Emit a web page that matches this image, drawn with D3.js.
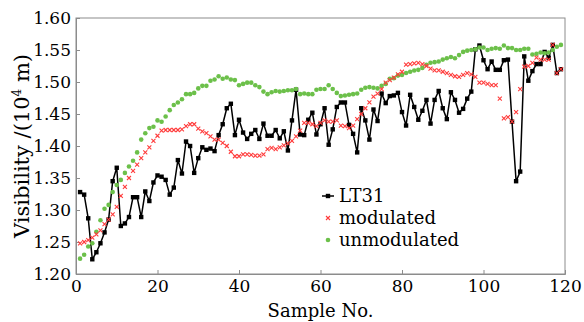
<!DOCTYPE html>
<html>
<head>
<meta charset="utf-8">
<script src="https://cdn.jsdelivr.net/npm/d3@7"></script>
<style>
  body { margin: 0; background: #fff; }
  svg { display: block; }
</style>
</head>
<body>
<svg id="chart"></svg>
<script>
// Data (sample 1..119)
const lt31 = [1.328,1.324,1.287,1.223,1.234,1.248,1.265,1.285,1.345,1.366,
  1.275,1.279,1.289,1.320,1.320,1.289,1.329,1.314,1.343,1.354,
  1.352,1.347,1.324,1.335,1.378,1.357,1.407,1.400,1.358,1.381,
  1.398,1.394,1.396,1.392,1.417,1.434,1.459,1.466,1.417,1.441,
  1.421,1.411,1.419,1.425,1.411,1.435,1.416,1.416,1.425,1.412,
  1.423,1.393,1.440,1.488,1.418,1.417,1.441,1.452,1.418,1.434,
  1.459,1.402,1.426,1.461,1.468,1.468,1.433,1.419,1.390,1.459,
  1.440,1.410,1.457,1.439,1.482,1.467,1.478,1.479,1.483,1.453,
  1.432,1.480,1.461,1.441,1.455,1.472,1.435,1.472,1.486,1.459,
  1.442,1.484,1.472,1.452,1.458,1.474,1.485,1.551,1.557,1.534,
  1.520,1.532,1.519,1.519,1.534,1.535,1.438,1.345,1.360,1.540,
  1.502,1.517,1.528,1.528,1.547,1.538,1.558,1.514,1.520];

const modulated = [1.248,1.250,1.253,1.257,1.262,1.268,1.278,1.285,1.293,1.305,
  1.322,1.336,1.350,1.361,1.371,1.381,1.390,1.398,1.408,1.416,
  1.424,1.425,1.425,1.425,1.425,1.426,1.431,1.434,1.434,1.427,
  1.423,1.420,1.415,1.410,1.410,1.405,1.400,1.391,1.384,1.384,
  1.387,1.387,1.386,1.385,1.385,1.387,1.395,1.397,1.395,1.398,
  1.401,1.404,1.408,1.415,1.424,1.436,1.436,1.434,1.431,1.436,
  1.440,1.438,1.438,1.440,1.432,1.431,1.428,1.432,1.442,1.450,
  1.459,1.468,1.477,1.482,1.489,1.499,1.503,1.507,1.512,1.516,
  1.527,1.528,1.529,1.530,1.528,1.525,1.521,1.518,1.518,1.516,
  1.514,1.511,1.509,1.508,1.511,1.514,1.512,1.508,1.499,1.499,
  1.497,1.495,1.495,1.474,1.443,1.445,1.438,1.453,1.489,1.524,
  1.525,1.530,1.538,1.535,1.535,1.535,1.558,1.514,1.520];

const unmodulated = [1.224,1.230,1.243,1.248,1.266,1.284,1.302,1.308,1.328,1.339,
  1.347,1.358,1.368,1.377,1.390,1.410,1.420,1.428,1.430,1.440,
  1.438,1.446,1.456,1.464,1.468,1.473,1.481,1.481,1.483,1.490,
  1.494,1.494,1.502,1.504,1.509,1.505,1.507,1.504,1.503,1.495,
  1.497,1.499,1.499,1.495,1.492,1.485,1.481,1.484,1.486,1.485,
  1.486,1.487,1.487,1.489,1.481,1.482,1.481,1.481,1.488,1.489,
  1.489,1.495,1.489,1.483,1.478,1.479,1.480,1.481,1.482,1.488,
  1.491,1.492,1.491,1.490,1.494,1.497,1.505,1.506,1.510,1.511,
  1.514,1.516,1.518,1.519,1.522,1.527,1.530,1.531,1.532,1.535,
  1.537,1.539,1.537,1.542,1.547,1.549,1.550,1.551,1.554,1.554,
  1.550,1.552,1.553,1.552,1.557,1.553,1.553,1.550,1.550,1.552,
  1.552,1.543,1.544,1.546,1.545,1.546,1.550,1.555,1.558];

const xTicks = [0, 20, 40, 60, 80, 100, 120];
const yTicks = [1.20, 1.25, 1.30, 1.35, 1.40, 1.45, 1.50, 1.55, 1.60];
const legendLabels = ["LT31", "modulated", "unmodulated"];

// Sizes
const width = 584;
const height = 322;
const marginTop = 18;
const marginRight = 19;
const marginBottom = 48;
const marginLeft = 76;
const fontFamily = "'DejaVu Serif', 'Liberation Serif', serif";

const svg = d3.select("#chart")
    .attr("width", width)
    .attr("height", height)
    .attr("viewBox", [0, 0, width, height])
    .attr("font-family", fontFamily);

const x = d3.scaleLinear()
    .domain([0, 120])
    .range([marginLeft, width - marginRight]);

const y = d3.scaleLinear()
    .domain([1.20, 1.60])
    .range([height - marginBottom, marginTop]);

const frameColor = "#8c8c8c";
const red = "#ff3b3b";
const green = "#6cc04a";

// Frame (top + right)
svg.append("rect")
    .attr("x", x(0))
    .attr("y", y(1.60))
    .attr("width", x(120) - x(0))
    .attr("height", y(1.20) - y(1.60))
    .attr("fill", "none")
    .attr("stroke", frameColor)
    .attr("stroke-width", 1);

// Axes, ticks pointing inward
const xAxis = svg.append("g")
    .attr("transform", `translate(0,${y(1.20)})`)
    .call(d3.axisBottom(x).tickValues(xTicks).tickSize(-4).tickPadding(7).tickFormat(d3.format("d")))
    .attr("font-family", fontFamily)
    .attr("font-size", 17);
xAxis.select(".domain").attr("stroke", frameColor);
xAxis.selectAll(".tick line").attr("stroke", frameColor);
xAxis.selectAll("text").attr("fill", "#000").attr("dy", "0.62em");

const yAxis = svg.append("g")
    .attr("transform", `translate(${x(0)},0)`)
    .call(d3.axisLeft(y).tickValues(yTicks).tickSize(-4).tickPadding(5).tickFormat(d3.format(".2f")))
    .attr("font-family", fontFamily)
    .attr("font-size", 17);
yAxis.select(".domain").attr("stroke", frameColor);
yAxis.selectAll(".tick line").attr("stroke", frameColor);
yAxis.selectAll("text").attr("fill", "#000");

// Axis titles
svg.append("text")
    .attr("x", (x(0) + x(120)) / 2)
    .attr("y", 317)
    .attr("text-anchor", "middle")
    .attr("font-size", 18)
    .text("Sample No.");

const yTitle = svg.append("text")
    .attr("transform", `translate(29,${(y(1.20) + y(1.60)) / 2}) rotate(-90)`)
    .attr("text-anchor", "middle")
    .attr("font-size", 21);
yTitle.append("tspan").text("Visibility /(10");
yTitle.append("tspan").attr("font-size", 12).attr("dy", -8).text("4");
yTitle.append("tspan").attr("dy", 8).text(" m)");

// LT31 line + squares
const line = d3.line()
    .x((d, i) => x(i + 1))
    .y(d => y(d));

svg.append("path")
    .datum(lt31)
    .attr("fill", "none")
    .attr("stroke", "#000")
    .attr("stroke-width", 1.5)
    .attr("stroke-linejoin", "round")
    .attr("d", line);

svg.append("g")
  .selectAll("rect")
  .data(lt31)
  .join("rect")
    .attr("x", (d, i) => x(i + 1) - 2.2)
    .attr("y", d => y(d) - 2.2)
    .attr("width", 4.4)
    .attr("height", 4.4)
    .attr("fill", "#000");

// unmodulated dots
svg.append("g")
  .selectAll("circle")
  .data(unmodulated)
  .join("circle")
    .attr("cx", (d, i) => x(i + 1))
    .attr("cy", d => y(d))
    .attr("r", 2.3)
    .attr("fill", green);

// modulated crosses
const cross = s => `M${-s},${-s}L${s},${s}M${-s},${s}L${s},${-s}`;
svg.append("g")
  .selectAll("path")
  .data(modulated)
  .join("path")
    .attr("transform", (d, i) => `translate(${x(i + 1)},${y(d)})`)
    .attr("d", cross(2))
    .attr("stroke", red)
    .attr("stroke-width", 1.1)
    .attr("fill", "none");

// Legend
const legend = svg.append("g")
    .attr("transform", "translate(321,196)");

const legendItems = legend.selectAll("g")
  .data(legendLabels)
  .join("g")
    .attr("transform", (d, i) => `translate(0,${i * 22})`);

legendItems.append("text")
    .attr("x", 18)
    .attr("dy", "0.35em")
    .attr("font-size", 18)
    .text(d => d);

const lg0 = legendItems.filter((d, i) => i === 0);
lg0.append("line")
    .attr("x1", 1).attr("x2", 13)
    .attr("stroke", "#000").attr("stroke-width", 1.5);
lg0.append("rect")
    .attr("x", 4.8).attr("y", -2.2).attr("width", 4.4).attr("height", 4.4)
    .attr("fill", "#000");

legendItems.filter((d, i) => i === 1).append("path")
    .attr("transform", "translate(7,0)")
    .attr("d", cross(2))
    .attr("stroke", red).attr("stroke-width", 1.1);

legendItems.filter((d, i) => i === 2).append("circle")
    .attr("cx", 7).attr("r", 2.3)
    .attr("fill", green);
</script>
</body>
</html>
